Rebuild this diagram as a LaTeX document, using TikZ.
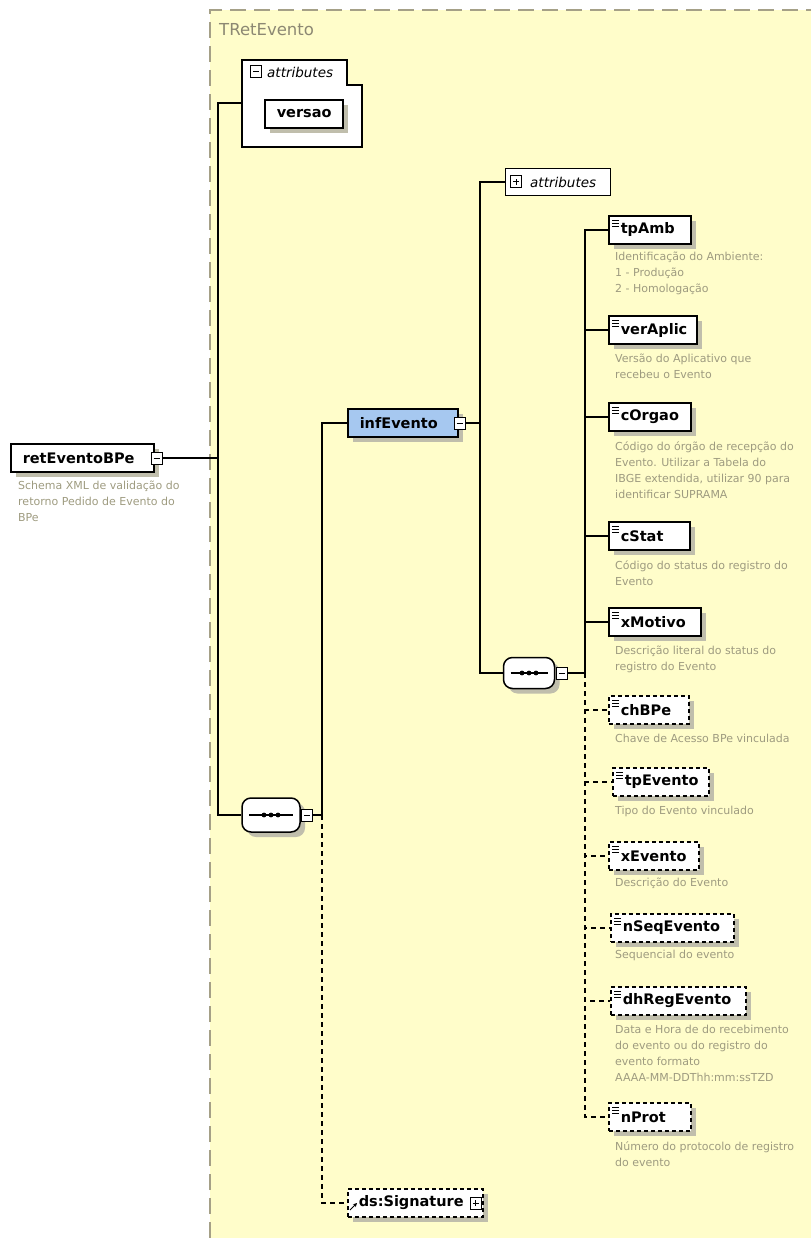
\documentclass[tikz,border=0pt]{standalone}
\usepackage{fontspec}
\setmainfont{DejaVu Sans}
\usetikzlibrary{shadows,arrows.meta}
\definecolor{bgyellow}{RGB}{255,253,202}
\definecolor{bgborder}{RGB}{165,160,135}
\definecolor{desctext}{RGB}{158,155,128}
\definecolor{infblue}{RGB}{166,200,240}
\definecolor{shadowgray}{RGB}{192,190,172}
\tikzset{
  box/.style={draw, fill=white, line width=1.5pt, minimum height=28pt, inner xsep=3pt, align=left,
    font=\fontsize{14.5}{16}\selectfont\bfseries,
    drop shadow={shadow xshift=5pt, shadow yshift=-5pt, fill=shadowgray, opacity=1}},
  elem/.style={box, anchor=west, execute at begin node=\hspace*{9pt},
    path picture={
      \draw[solid, line width=0.9pt] ([xshift=3.5pt,yshift=-4pt]path picture bounding box.north west) -- ++(7pt,0pt);
      \draw[solid, line width=0.9pt] ([xshift=3.5pt,yshift=-7pt]path picture bounding box.north west) -- ++(7pt,0pt);
      \draw[solid, line width=0.9pt] ([xshift=3.5pt,yshift=-10pt]path picture bounding box.north west) -- ++(7pt,0pt);}},
  optelem/.style={elem, dash pattern=on 4pt off 3pt},
  desc/.style={anchor=north west, align=left, text=desctext, inner sep=0pt,
    font=\fontsize{11}{16}\selectfont},
  expbox/.style={draw, solid, fill=white, line width=1pt, minimum width=11pt, minimum height=12pt, inner sep=0pt},
  minusbox/.style={expbox, path picture={\draw[line width=1pt] ([xshift=2.5pt]path picture bounding box.west) -- ([xshift=-2.5pt]path picture bounding box.east);}},
  plusbox/.style={expbox, path picture={\draw[line width=1pt] ([xshift=2.5pt]path picture bounding box.west) -- ([xshift=-2.5pt]path picture bounding box.east);
      \draw[line width=1pt] ([yshift=3pt]path picture bounding box.south) -- ([yshift=-3pt]path picture bounding box.north);}},
  seqbox/.style={draw, fill=white, line width=1.5pt, rounded corners=9pt, inner sep=0pt,
    drop shadow={shadow xshift=5pt, shadow yshift=-5pt, fill=shadowgray, opacity=1},
    path picture={
      \draw[line width=1.2pt] ([xshift=7pt]path picture bounding box.west) -- ([xshift=-7pt]path picture bounding box.east);
      \fill[black] (path picture bounding box.center) circle (2.4pt);
      \fill[black] ([xshift=-7pt]path picture bounding box.center) circle (2.4pt);
      \fill[black] ([xshift=7pt]path picture bounding box.center) circle (2.4pt);}},
  attrlabel/.style={anchor=west, inner sep=0pt, font=\fontsize{13.5}{15}\selectfont\itshape},
  conn/.style={line width=1.3pt},
  optconn/.style={conn, dash pattern=on 5pt off 4pt}
}
\begin{document}
\begin{tikzpicture}[x=1pt,y=-1pt]
\useasboundingbox (0,0) rectangle (811,1238);
% complex type area
\fill[bgyellow] (210,10) rectangle (811,1238);
\draw[bgborder, line width=2pt, dash pattern=on 16pt off 8pt] (210,1238) -- (210,10) -- (811,10);
\node[anchor=west, inner sep=0pt, text=bgborder!85!black, font=\fontsize{16.5}{18}\selectfont] (typename) at (219,30) {TRetEvento};

% root element
\node[box, text width=137pt, anchor=west] (root) at (10,458) {\hspace*{9pt}retEventoBPe};
\node[minusbox] (rootx) at ([xshift=2pt]root.east) {};
\node[desc] (root-d) at (18,481) {Schema XML de validação do\\retorno Pedido de Evento do\\BPe};
\coordinate (bus0) at (218,458);

% attributes of the type
\draw[line width=1.3pt, fill=white] (242,60) -- (347,60) -- (347,85) -- (362,85) -- (362,147) -- (242,147) -- cycle;
\node[minusbox] (attx) at (256,72) {};
\node[attrlabel] (attlbl) at (267,72) {attributes};
\node[box, text width=72pt, anchor=west] (versao) at (264,114) {\hspace*{9pt}versao};
\coordinate (attgrp) at (242,103);

% sequence of the type
\node[seqbox, minimum width=58pt, minimum height=34pt] (seq0) at (271,815) {};
\node[minusbox] (seq0x) at (307,815) {};
\coordinate (bus1) at (322,815);

% infEvento
\node[box, fill=infblue, text width=104pt, anchor=west] (infEvento) at (347,423) {\hspace*{9pt}infEvento};
\node[minusbox] (infx) at ([xshift=1pt]infEvento.east) {};
\coordinate (bus2) at (480,423);
\node[draw, fill=white, line width=1.3pt, minimum width=105pt, minimum height=27pt, anchor=west] (attrs) at (505,182) {};
\node[plusbox] (attrsx) at ([xshift=11pt]attrs.west) {};
\node[attrlabel] (attrslbl) at ([xshift=8pt]attrsx.east) {attributes};
\node[seqbox, minimum width=51pt, minimum height=31pt] (seq1) at (529,673) {};
\node[minusbox] (seq1x) at (562,673) {};
\coordinate (bus3) at (585,673);

% children of infEvento
\node[elem, text width=76pt] (tpAmb) at (608,230) {tpAmb};
\node[desc] (tpAmb-d) at (615,252) {Identificação do Ambiente:\\1 - Produção\\2 - Homologação};
\node[elem, text width=82pt] (verAplic) at (608,330) {verAplic};
\node[desc] (verAplic-d) at (615,354) {Versão do Aplicativo que\\recebeu o Evento};
\node[elem, text width=76pt] (cOrgao) at (608,417) {cOrgao};
\node[desc] (cOrgao-d) at (615,441) {Código do órgão de recepção do\\Evento. Utilizar a Tabela do\\IBGE extendida, utilizar 90 para\\identificar SUPRAMA};
\node[elem, text width=75pt] (cStat) at (608,536) {cStat};
\node[desc] (cStat-d) at (615,560) {Código do status do registro do\\Evento};
\node[elem, text width=86pt] (xMotivo) at (608,622) {xMotivo};
\node[desc] (xMotivo-d) at (615,646) {Descrição literal do status do\\registro do Evento};
\node[optelem, text width=74pt] (chBPe) at (608,710) {chBPe};
\node[desc] (chBPe-d) at (615,734) {Chave de Acesso BPe vinculada};
\node[optelem, text width=90pt] (tpEvento) at (612,782) {tpEvento};
\node[desc] (tpEvento-d) at (615,806) {Tipo do Evento vinculado};
\node[optelem, text width=84pt] (xEvento) at (608,856) {xEvento};
\node[desc] (xEvento-d) at (615,878) {Descrição do Evento};
\node[optelem, text width=117pt] (nSeqEvento) at (610,928) {nSeqEvento};
\node[desc] (nSeqEvento-d) at (615,950) {Sequencial do evento};
\node[optelem, text width=129pt] (dhRegEvento) at (610,1001) {dhRegEvento};
\node[desc] (dhRegEvento-d) at (615,1025) {Data e Hora de do recebimento\\do evento ou do registro do\\evento formato\\AAAA-MM-DDThh:mm:ssTZD};
\node[optelem, text width=76pt] (nProt) at (608,1117) {nProt};
\node[desc] (nProt-d) at (615,1141) {Número do protocolo de registro\\do evento};

% signature
\node[box, dash pattern=on 4pt off 3pt, text width=129pt, anchor=west] (sig) at (347,1203) {\hspace*{8pt}ds:Signature};
\node[plusbox] (sigx) at ([xshift=-8pt]sig.east) {};
\draw[-{Stealth[length=4pt,width=4pt]}, line width=0.9pt] ([xshift=3pt,yshift=-7pt]sig.west) -- ++(7pt,7pt);

% connectors
\draw[conn] (rootx.east) -- (bus0);
\draw[conn] (bus0) |- (attgrp);
\draw[conn] (bus0) |- (seq0.west);
\draw[conn] (seq0x.east) -- (bus1);
\draw[conn] (bus1) |- (infEvento.west);
\draw[optconn] (bus1) |- (sig.west);
\draw[conn] (infx.east) -- (bus2);
\draw[conn] (bus2) |- (attrs.west);
\draw[conn] (bus2) |- (seq1.west);
\draw[conn] (seq1x.east) -- (bus3);
\draw[conn] (bus3) |- (tpAmb.west);
\draw[conn] (bus3) |- (verAplic.west);
\draw[conn] (bus3) |- (cOrgao.west);
\draw[conn] (bus3) |- (cStat.west);
\draw[conn] (bus3) |- (xMotivo.west);
\draw[optconn] (bus3) |- (chBPe.west);
\draw[optconn] (bus3) |- (tpEvento.west);
\draw[optconn] (bus3) |- (xEvento.west);
\draw[optconn] (bus3) |- (nSeqEvento.west);
\draw[optconn] (bus3) |- (dhRegEvento.west);
\draw[optconn] (bus3) |- (nProt.west);
\end{tikzpicture}
\end{document}
